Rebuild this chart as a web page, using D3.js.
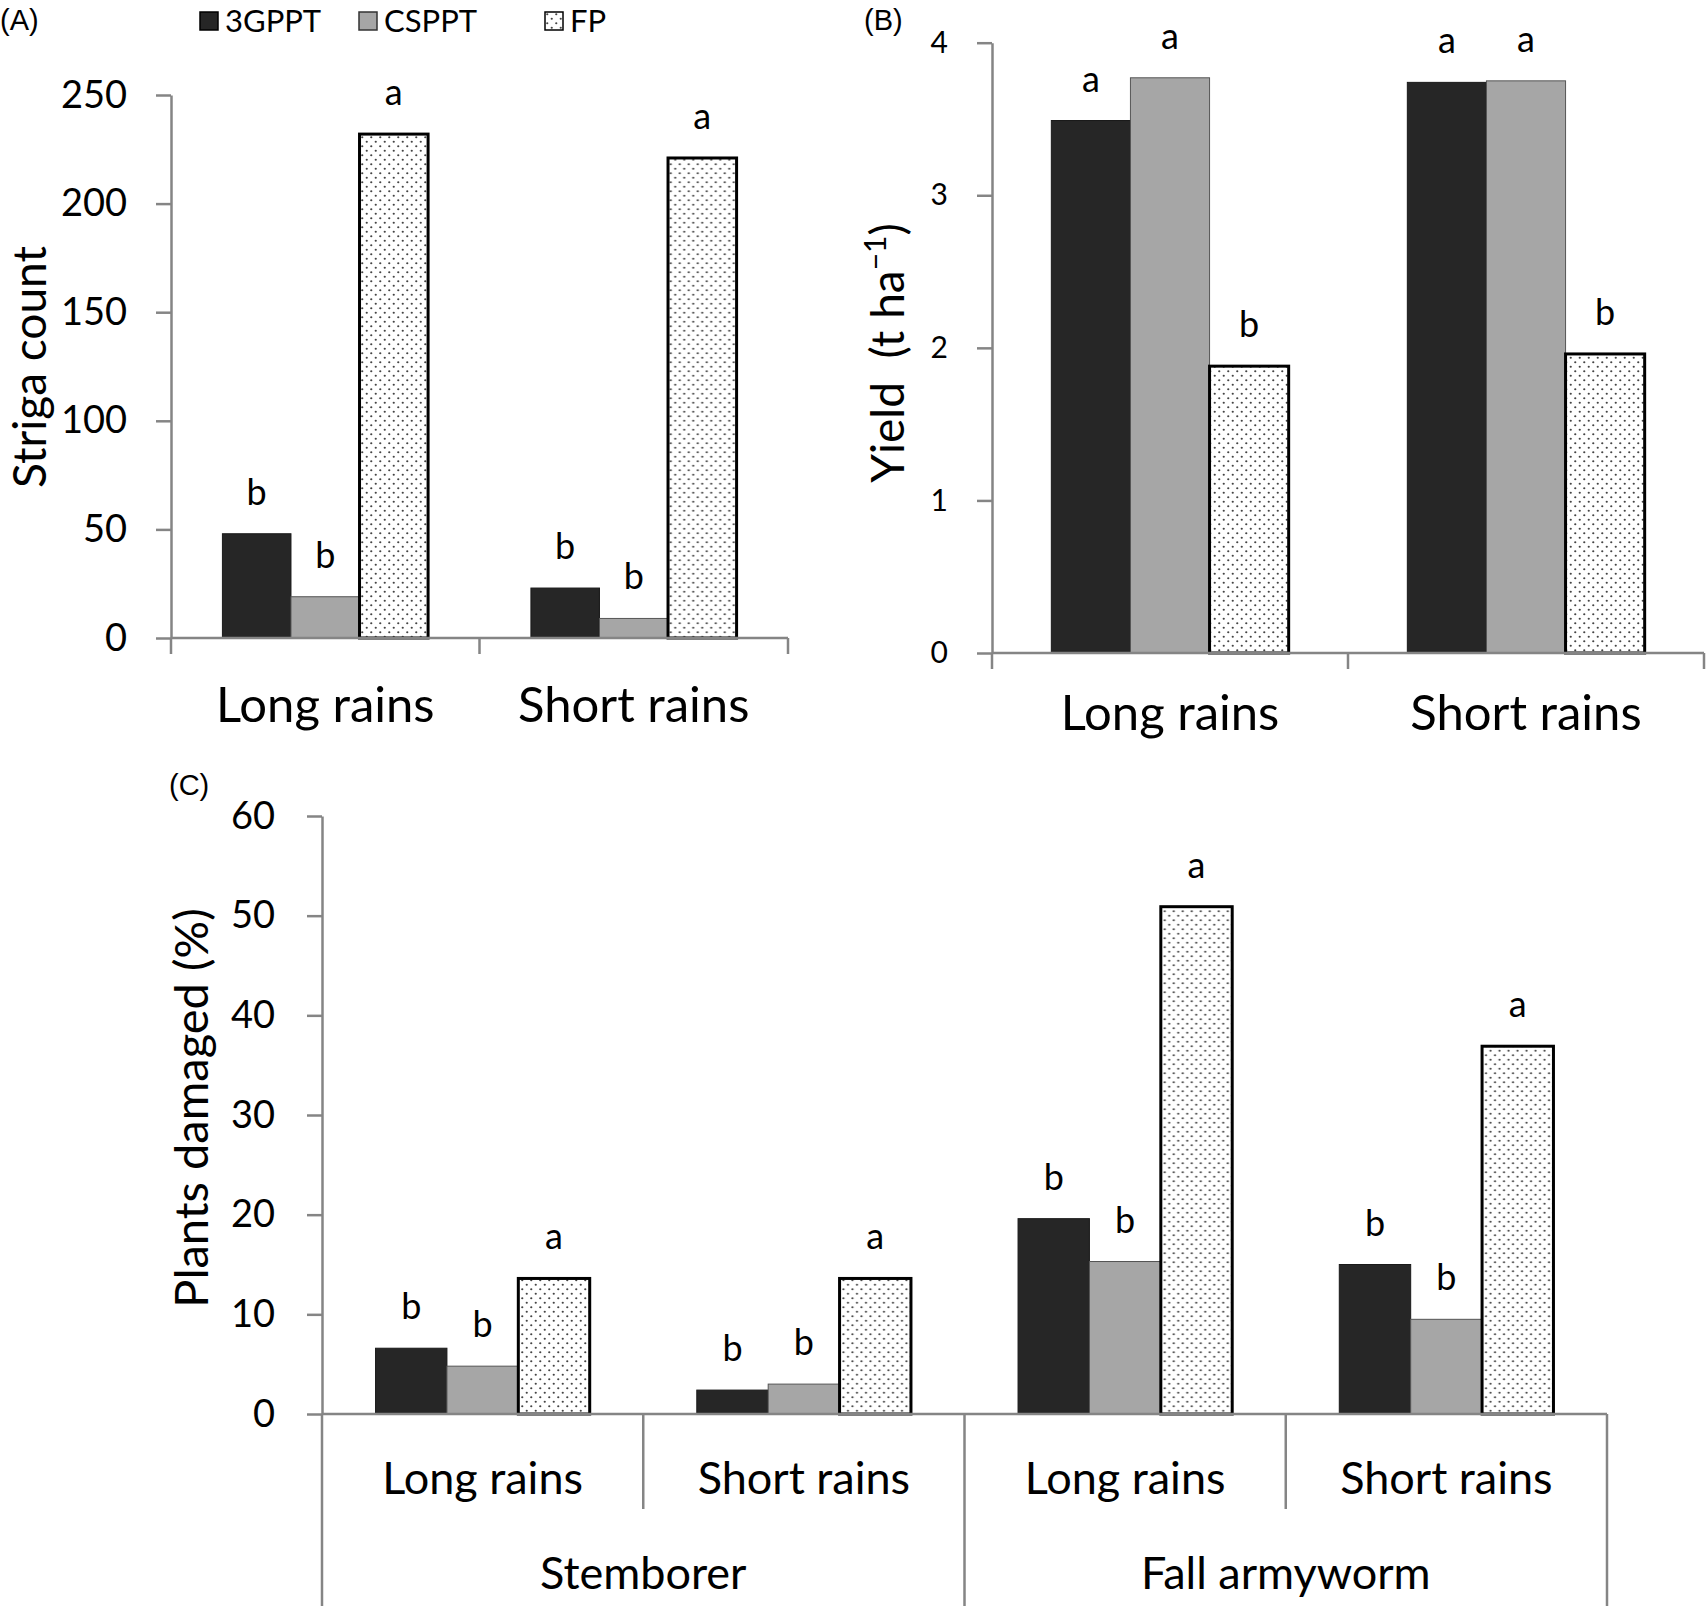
<!DOCTYPE html>
<html>
<head>
<meta charset="utf-8">
<script src="https://cdn.jsdelivr.net/npm/d3@7"></script>
<style>
  body { margin: 0; background: #fff; }
  text { font-family: Lato, "Noto Sans", sans-serif; fill: #000; }
</style>
</head>
<body>
<script>
const width = 1707;
const height = 1606;

// data
const treatments = ['3GPPT', 'CSPPT', 'FP'];
const seasons = ['Long rains', 'Short rains'];
const pests = ['Stemborer', 'Fall armyworm'];

const striga3GPPT = [48, 23];
const strigaCSPPT = [19, 9];
const strigaFP = [232, 221];
const strigaLetters = [['b', 'b', 'a'], ['b', 'b', 'a']];
const strigaTicks = [0, 50, 100, 150, 200, 250];

const yield3GPPT = [3.49, 3.74];
const yieldCSPPT = [3.77, 3.75];
const yieldFP = [1.88, 1.96];
const yieldLetters = [['a', 'a', 'b'], ['a', 'a', 'b']];
const yieldTicks = [0, 1, 2, 3, 4];

// stemborer LR, stemborer SR, armyworm LR, armyworm SR
const damage3GPPT = [6.6, 2.4, 19.6, 15.0];
const damageCSPPT = [4.8, 3.0, 15.3, 9.5];
const damageFP = [13.6, 13.6, 50.9, 36.9];
const damageLetters = [['b', 'b', 'a'], ['b', 'b', 'a'], ['b', 'b', 'a'], ['b', 'b', 'a']];
const damageTicks = [0, 10, 20, 30, 40, 50, 60];

const fills = { '3GPPT': '#262626', 'CSPPT': '#a6a6a6', 'FP': 'url(#dots)' };
const strokes = { '3GPPT': '#1a1a1a', 'CSPPT': '#555', 'FP': '#000' };
const strokeW = { '3GPPT': 1, 'CSPPT': 1, 'FP': 3 };
const axisColor = '#858585';

const svg = d3.select('body').append('svg').attr('width', width).attr('height', height);

const pat = svg.append('defs').append('pattern')
  .attr('id', 'dots').attr('patternUnits', 'userSpaceOnUse')
  .attr('width', 9).attr('height', 9);
pat.append('rect').attr('width', 9).attr('height', 9).attr('fill', '#fff');
pat.append('circle').attr('cx', 2.25).attr('cy', 2.25).attr('r', 1.1).attr('fill', '#444');
pat.append('circle').attr('cx', 6.75).attr('cy', 6.75).attr('r', 1.1).attr('fill', '#444');

function panel(opt) {
  const g = svg.append('g');
  const x0 = d3.scaleBand().domain(opt.cats.map((d, i) => i)).range([opt.left, opt.right]);
  const x1 = d3.scaleBand().domain(treatments).range([0, x0.bandwidth()]).paddingOuter(0.75);
  const y = d3.scaleLinear().domain(opt.domain).range([opt.bottom, opt.top]);

  const rows = opt.cats.map((c, i) => treatments.map((t, j) => ({
    cat: i, t: t, v: opt.values[j][i], letter: opt.letters[i][j]
  })));

  const grp = g.selectAll('g.grp').data(rows).enter().append('g')
    .attr('transform', (d, i) => `translate(${x0(i)},0)`);

  grp.selectAll('rect').data(d => d).enter().append('rect')
    .attr('x', d => x1(d.t))
    .attr('width', x1.bandwidth())
    .attr('y', d => y(d.v))
    .attr('height', d => y(0) - y(d.v))
    .attr('fill', d => fills[d.t])
    .attr('stroke', d => strokes[d.t])
    .attr('stroke-width', d => strokeW[d.t]);

  grp.selectAll('text').data(d => d).enter().append('text')
    .attr('x', d => x1(d.t) + x1.bandwidth() / 2)
    .attr('y', d => y(d.v) - 29)
    .attr('text-anchor', 'middle')
    .style('font-size', '36px')
    .text(d => d.letter);

  // y axis
  const ya = g.append('g').attr('transform', `translate(${opt.left},0)`)
    .call(d3.axisLeft(y).tickValues(opt.ticks).tickFormat(d3.format('d'))
      .tickSize(15).tickSizeOuter(0).tickPadding(opt.tickPad));
  ya.selectAll('path, line').attr('stroke', axisColor).attr('stroke-width', 2.5);
  ya.selectAll('text').style('font-size', opt.tickFont + 'px').style('font-family', 'Lato');

  // x axis line
  g.append('line')
    .attr('x1', opt.left).attr('x2', opt.right)
    .attr('y1', y(0)).attr('y2', y(0))
    .attr('stroke', axisColor).attr('stroke-width', 2.5);

  return { g, x0, y };
}

// ---- panel A
const A = panel({
  cats: seasons, values: [striga3GPPT, strigaCSPPT, strigaFP], letters: strigaLetters,
  domain: [0, 250], ticks: strigaTicks,
  left: 171, right: 788, top: 95, bottom: 638, tickPad: 29, tickFont: 38
});
[0, 1, 2].forEach(i => {
  const xx = i < 2 ? A.x0(i) : A.x0(1) + A.x0.bandwidth();
  A.g.append('line').attr('x1', xx).attr('x2', xx).attr('y1', A.y(0)).attr('y2', A.y(0) + 16)
    .attr('stroke', axisColor).attr('stroke-width', 2.5);
});
A.g.selectAll('text.cat').data(seasons).enter().append('text')
  .attr('x', (d, i) => A.x0(i) + A.x0.bandwidth() / 2).attr('y', 722)
  .attr('text-anchor', 'middle').style('font-size', '49px').text(d => d);
A.g.append('text').attr('transform', 'translate(30,367) rotate(-90)')
  .attr('dy', '0.35em').attr('text-anchor', 'middle').style('font-size', '46px').text('Striga count');

// ---- panel B
const B = panel({
  cats: seasons, values: [yield3GPPT, yieldCSPPT, yieldFP], letters: yieldLetters,
  domain: [0, 4], ticks: yieldTicks,
  left: 992, right: 1704, top: 42.7, bottom: 653, tickPad: 29, tickFont: 30
});
[0, 1, 2].forEach(i => {
  const xx = i < 2 ? B.x0(i) : B.x0(1) + B.x0.bandwidth();
  B.g.append('line').attr('x1', xx).attr('x2', xx).attr('y1', B.y(0)).attr('y2', B.y(0) + 16)
    .attr('stroke', axisColor).attr('stroke-width', 2.5);
});
B.g.selectAll('text.cat').data(seasons).enter().append('text')
  .attr('x', (d, i) => B.x0(i) + B.x0.bandwidth() / 2).attr('y', 730)
  .attr('text-anchor', 'middle').style('font-size', '49px').text(d => d);
const bt = B.g.append('text').attr('transform', 'translate(888,353) rotate(-90)')
  .attr('dy', '0.35em').attr('text-anchor', 'middle').style('font-size', '46px')
  .style('white-space', 'pre');
bt.append('tspan').text('Yield  (t ha');
bt.append('tspan').attr('baseline-shift', 'super').style('font-size', '30px').text('\u22121');
bt.append('tspan').text(')');

// ---- panel C
const cCats = [0, 1, 2, 3].map(i => seasons[i % 2]);
const C = panel({
  cats: cCats, values: [damage3GPPT, damageCSPPT, damageFP], letters: damageLetters,
  domain: [0, 60], ticks: damageTicks,
  left: 322, right: 1607, top: 816, bottom: 1414, tickPad: 32, tickFont: 38
});
[0, 1, 2, 3, 4].forEach(i => {
  const xx = i < 4 ? C.x0(i) : C.x0(3) + C.x0.bandwidth();
  const deep = i % 2 === 0;
  C.g.append('line').attr('x1', xx).attr('x2', xx)
    .attr('y1', C.y(0)).attr('y2', deep ? height : 1509)
    .attr('stroke', axisColor).attr('stroke-width', 2.5);
});
C.g.selectAll('text.cat').data(cCats).enter().append('text')
  .attr('x', (d, i) => C.x0(i) + C.x0.bandwidth() / 2).attr('y', 1494)
  .attr('text-anchor', 'middle').style('font-size', '45px').text(d => d);
C.g.selectAll('text.pest').data(pests).enter().append('text')
  .attr('x', (d, i) => C.x0(i * 2) + C.x0.bandwidth()).attr('y', 1589)
  .attr('text-anchor', 'middle').style('font-size', '45px').text(d => d);
C.g.append('text').attr('transform', 'translate(192,1108) rotate(-90)')
  .attr('dy', '0.35em').attr('text-anchor', 'middle').style('font-size', '47px').text('Plants damaged (%)');

// panel letters
[['(A)', 0, 30], ['(B)', 864, 30], ['(C)', 169, 795]].forEach(p => {
  svg.append('text').attr('x', p[1]).attr('y', p[2])
    .style('font-family', '"Liberation Sans", Arial, sans-serif').style('font-size', '29px').text(p[0]);
});

// legend
const legX = [200, 359, 545];
const leg = svg.append('g').selectAll('g').data(treatments).enter().append('g')
  .attr('transform', (d, i) => `translate(${legX[i]},12)`);
leg.append('rect').attr('width', 18).attr('height', 18)
  .attr('fill', d => fills[d]).attr('stroke', d => d === 'CSPPT' ? '#333' : '#000').attr('stroke-width', 1.5);
leg.append('text').attr('x', 25).attr('y', 20).style('font-size', '31px').text(d => d);
</script>
</body>
</html>
